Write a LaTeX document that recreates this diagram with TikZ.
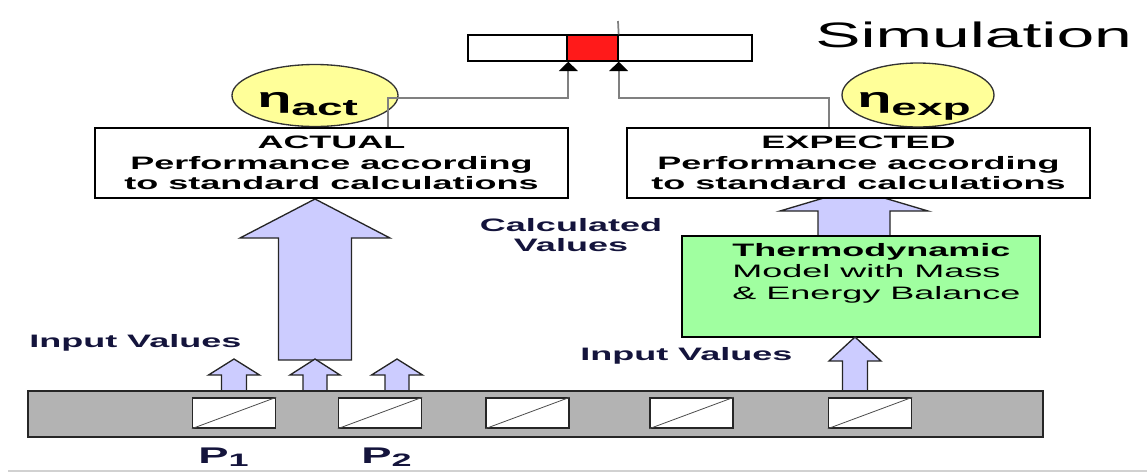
\documentclass[tikz,border=0pt]{standalone}
\usepackage{fontspec}
\setmainfont{Liberation Sans}
\newfontfamily\wfont{Liberation Sans}[FakeStretch=2]
\newfontfamily\tfont{Liberation Sans}[FakeStretch=1.92]
\usetikzlibrary{arrows.meta,shapes.geometric}
\definecolor{arrowblue}{HTML}{CCCCFF}
\definecolor{etayellow}{HTML}{FFFF99}
\definecolor{modelgreen}{HTML}{A0FFA0}
\definecolor{barred}{HTML}{FF1A1A}
\definecolor{bargray}{HTML}{B3B3B3}
\definecolor{conngray}{HTML}{808080}
\definecolor{labelnavy}{HTML}{14143C}
\newcommand\blockarr[6]{%
  \draw[barrow] ({#1},{#2}) -- ({#1+#4},{#3}) -- ({#1+#5},{#3}) -- ({#1+#5},{#6})
    -- ({#1-#5},{#6}) -- ({#1-#5},{#3}) -- ({#1-#4},{#3}) -- cycle;}
\begin{document}
\begin{tikzpicture}[x=0.75pt,y=-0.75pt,
  txtbox/.style={draw=black, line width=1pt, fill=white, inner sep=0pt, align=center,
    font=\wfont\bfseries\fontsize{13.5}{15.4}\selectfont},
  ell/.style={ellipse, draw=black!80, line width=1pt, fill=etayellow, inner sep=0pt},
  conn/.style={draw=conngray, line width=1.3pt, -{Triangle[width=14pt,length=7pt,color=black]}},
  barrow/.style={fill=arrowblue, draw=black!85, line width=1pt, line join=miter},
  lbl/.style={inner sep=0pt, text=labelnavy, font=\wfont\bfseries\fontsize{13.5}{15}\selectfont},
  pcell/.style={draw=black!85, line width=1pt, fill=white, minimum width=62.25pt,
    minimum height=22.5pt, inner sep=0pt},
  diag/.style={draw=black!70, line width=0.6pt},
  etatxt/.style={inner sep=0pt, anchor=base west, font=\wfont\bfseries}
]
\useasboundingbox (0,0) rectangle (1147,472);

% faint bottom border line
\draw[draw=black!18, line width=1.1pt] (8,471) -- (1147,471);

% title
\node[inner sep=0pt, anchor=base west, font=\tfont\fontsize{26.5}{29}\selectfont] (title) at (815,47) {Simulation};

% indicator scale
\node[draw=black, line width=1pt, fill=white, minimum width=213pt, minimum height=19.5pt, inner sep=0pt] (scale) at (610,48) {};
\node[draw=black, line width=1pt, fill=barred, minimum width=38.25pt, minimum height=19.5pt, inner sep=0pt] (redseg) at (592.5,48) {};
\coordinate (ptop) at (618,21);
\draw[draw=conngray, line width=1.3pt] (ptop) -- (redseg.north east);

% block arrow into EXPECTED box (tip hidden behind box)
\blockarr{854}{189}{211}{74}{36}{236}

% big arrow into ACTUAL box
\blockarr{315}{199}{238}{75}{36.5}{360}

% result boxes
\node[txtbox, minimum width=354.75pt, minimum height=52.5pt] (actbox) at (331.5,163)
  {ACTUAL\\Performance according\\to standard calculations};
\node[txtbox, minimum width=347.25pt, minimum height=52.5pt] (expbox) at (858.5,163)
  {EXPECTED\\Performance according\\to standard calculations};

% efficiency ellipses
\node[ell, minimum width=124.5pt, minimum height=46.5pt] (ellact) at (315,95.5) {};
\node[ell, minimum width=114pt, minimum height=48pt] (ellexp) at (918,95) {};
\node[etatxt] (etaact) at (257,107) {\fontsize{21}{24}\selectfont η\raisebox{-6pt}{\fontsize{17.25}{20}\selectfont act}};
\node[etatxt] (etaexp) at (857,107) {\fontsize{21}{24}\selectfont η\raisebox{-6pt}{\fontsize{17.25}{20}\selectfont exp}};

% connectors to the scale
\coordinate (la) at (388,98);
\coordinate (ra) at (829,98);
\draw[conn] (la |- actbox.north) -- (la) -- ([xshift=1.5pt]la -| redseg.south west) -- ([xshift=1.5pt]redseg.south west);
\draw[conn] (ra |- expbox.north) -- (ra) -- (ra -| redseg.south east) -- (redseg.south east);

% model box
\node[draw=black, line width=1pt, fill=modelgreen, minimum width=268.5pt, minimum height=75.75pt, inner sep=0pt] (model) at (861,286.5) {};
\node[inner sep=0pt, anchor=north west, align=left, font=\wfont\fontsize{13.5}{16.1}\selectfont] (modeltxt) at (732,243)
  {{\bfseries Thermodynamic}\\Model with Mass\\\& Energy Balance};

% labels
\node[lbl, align=center, anchor=north] (calc) at (571,218) {Calculated\\Values};
\node[lbl, anchor=base west] (inl) at (29,347) {Input Values};
\node[lbl, anchor=base west] (inr) at (580,360) {Input Values};

% small input arrows
\blockarr{234}{359}{375}{25.5}{12.5}{391}
\blockarr{315}{359}{375}{25}{12}{391}
\blockarr{397}{359}{375}{25.5}{12}{391}
\blockarr{855}{337}{361}{26}{12.5}{391}

% process bar with measuring cells
\node[draw=black!85, line width=1pt, fill=bargray, minimum width=761.25pt, minimum height=34.5pt, inner sep=0pt] (plant) at (535.5,414) {};
\foreach \n/\cx in {1/234,2/380,3/527.5,4/691.5,5/870}{
  \node[pcell] (p\n) at (\cx,413) {};
  \draw[diag] (p\n.south west) -- (p\n.north east);
}

% P labels
\node[inner sep=0pt, anchor=base west, text=labelnavy, font=\wfont\bfseries] (P1) at (198,463)
  {\fontsize{17}{20}\selectfont P\raisebox{-2.4pt}{\fontsize{13.5}{15}\selectfont 1}};
\node[inner sep=0pt, anchor=base west, text=labelnavy, font=\wfont\bfseries] (P2) at (361,463)
  {\fontsize{17}{20}\selectfont P\raisebox{-2.4pt}{\fontsize{13.5}{15}\selectfont 2}};
\end{tikzpicture}
\end{document}
